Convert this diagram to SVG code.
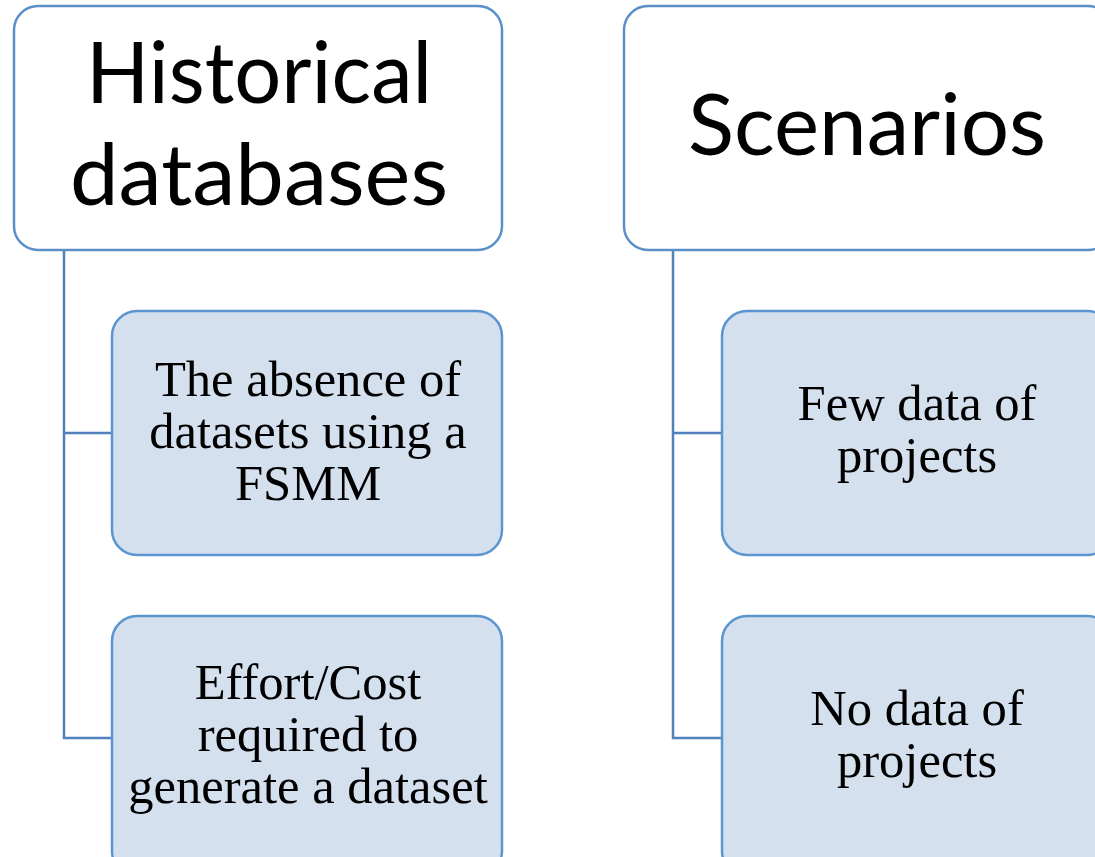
<svg xmlns="http://www.w3.org/2000/svg" width="1095" height="857" viewBox="0 0 1095 857">
  <style>
    .head { fill: #ffffff; stroke: #5b8fc8; stroke-width: 2.5; }
    .item { fill: #d5e0ee; stroke: #5b95d0; stroke-width: 2.5; }
    .wire { fill: none; stroke: #4f81bd; stroke-width: 2.5; }
    .htxt { font-family: Lato, "Open Sans", sans-serif; font-size: 85px; fill: #000; text-anchor: middle; }
    .itxt { font-family: "Liberation Serif", "Times New Roman", serif; font-size: 50.6px; fill: #000; text-anchor: middle; }
  </style>
  <rect width="1095" height="857" fill="#ffffff"/>

  <g id="connectors">
    <path class="wire" d="M64 250 V738 H112 M64 433 H112"/>
    <path class="wire" d="M673 250 V738 H722 M673 433 H722"/>
  </g>

  <g id="historical-databases">
    <rect class="head" x="14" y="6" width="488" height="244" rx="24"/>
    <text class="htxt" x="259" y="103" textLength="346" lengthAdjust="spacingAndGlyphs">Historical</text>
    <text class="htxt" x="259" y="205" textLength="378" lengthAdjust="spacingAndGlyphs">databases</text>
  </g>

  <g id="absence-of-datasets">
    <rect class="item" x="112" y="311" width="390" height="244" rx="25"/>
    <text class="itxt" x="308" y="396">The absence of</text>
    <text class="itxt" x="308" y="448">datasets using a</text>
    <text class="itxt" x="308" y="500">FSMM</text>
  </g>

  <g id="effort-cost">
    <rect class="item" x="112" y="616" width="390" height="260" rx="25"/>
    <text class="itxt" x="308" y="699">Effort/Cost</text>
    <text class="itxt" x="308" y="751">required to</text>
    <text class="itxt" x="308" y="803">generate a dataset</text>
  </g>

  <g id="scenarios">
    <rect class="head" x="624" y="6" width="488" height="244" rx="24"/>
    <text class="htxt" x="867" y="155" textLength="358" lengthAdjust="spacingAndGlyphs">Scenarios</text>
  </g>

  <g id="few-data">
    <rect class="item" x="722" y="311" width="390" height="244" rx="25"/>
    <text class="itxt" x="917" y="420">Few data of</text>
    <text class="itxt" x="917" y="472">projects</text>
  </g>

  <g id="no-data">
    <rect class="item" x="722" y="616" width="390" height="260" rx="25"/>
    <text class="itxt" x="917" y="725">No data of</text>
    <text class="itxt" x="917" y="777">projects</text>
  </g>
</svg>
